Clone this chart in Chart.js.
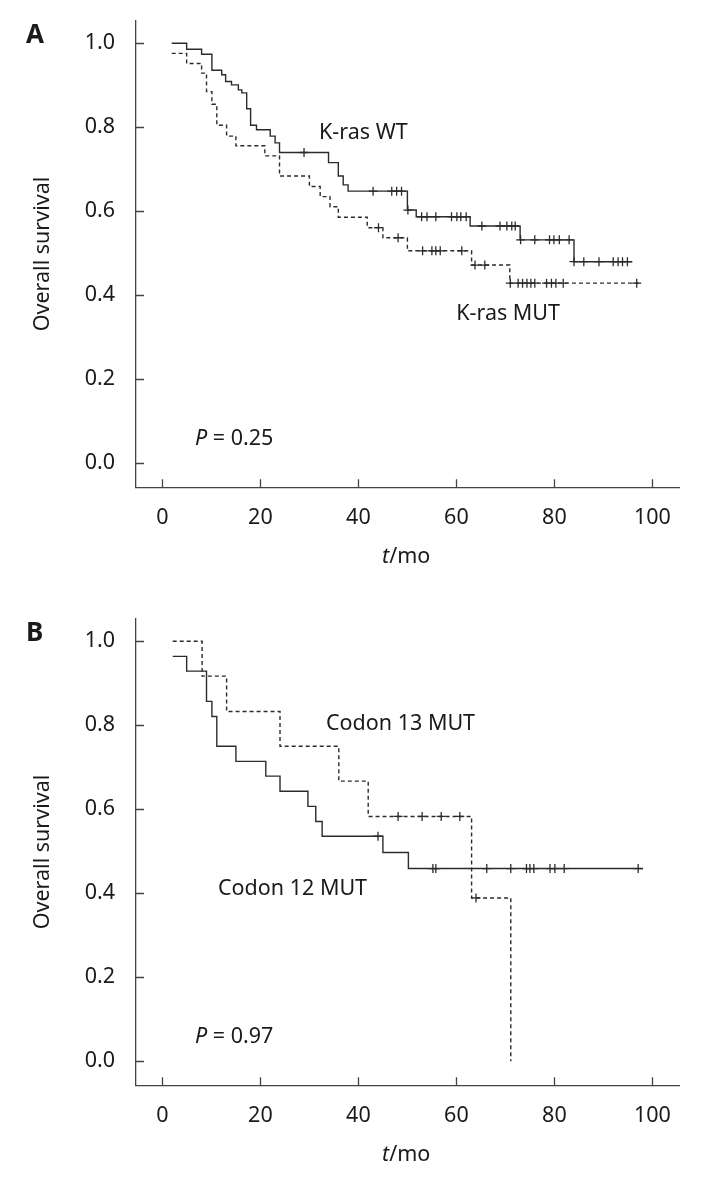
<!DOCTYPE html>
<html>
<head>
<meta charset="utf-8">
<script src="https://cdn.jsdelivr.net/npm/chart.js@4.4.1/dist/chart.umd.min.js"></script>
<style>
    body { margin: 0; background: #ffffff; }
    #wrap { position: relative; width: 705px; height: 1181px; }
    canvas { position: absolute; left: 0; }
    #chartA { top: 0; }
    #chartB { top: 598px; }
</style>
</head>
<body>
<div id="wrap">
    <canvas id="chartA" width="705" height="598"></canvas>
    <canvas id="chartB" width="705" height="583"></canvas>
</div>
<script>
// Panel A: K-ras wild type vs mutant
const wtTime = [1.9, 4.95, 8.0, 10.1, 12.1, 12.9, 14.1, 15.5, 16.2, 17.2, 18.0, 19.2, 22.0, 23.0, 23.9, 33.9, 35.9, 36.9, 37.9, 50.0, 51.8, 62.8, 73.0, 84.0, 95.9];
const wtSurv = [1.0, 0.986, 0.974, 0.936, 0.925, 0.909, 0.901, 0.889, 0.882, 0.844, 0.805, 0.794, 0.779, 0.763, 0.740, 0.716, 0.684, 0.663, 0.648, 0.603, 0.587, 0.565, 0.532, 0.480, 0.480];
const wtCensor = [28.9, 43.0, 46.8, 47.8, 48.8, 50.1, 52.9, 54.0, 55.8, 59.0, 60.1, 60.9, 62.0, 65.2, 68.9, 70.3, 71.3, 72.0, 73.1, 76.0, 79.0, 79.9, 81.0, 83.0, 84.0, 86.0, 89.1, 92.0, 93.0, 93.9, 94.9];

const mutTime = [1.9, 4.95, 8.0, 9.0, 10.1, 11.1, 13.1, 15.0, 20.9, 23.9, 30.0, 32.2, 34.2, 35.9, 41.8, 45.0, 50.0, 63.1, 70.9, 97.5];
const mutSurv = [0.976, 0.952, 0.929, 0.885, 0.855, 0.805, 0.779, 0.756, 0.732, 0.684, 0.659, 0.635, 0.611, 0.586, 0.561, 0.537, 0.506, 0.472, 0.429, 0.429];
const mutCensor = [44.1, 48.1, 53.1, 55.0, 55.8, 56.7, 61.1, 63.8, 65.8, 71.0, 72.6, 73.5, 74.4, 75.2, 76.0, 78.4, 79.4, 80.3, 81.8, 96.8];

// Panel B: codon 12 vs codon 13 mutations
const c12Time = [2.1, 4.95, 9.0, 10.1, 11.1, 15.0, 21.1, 24.0, 29.7, 31.3, 32.6, 45.0, 50.2, 98.1];
const c12Surv = [0.964, 0.929, 0.857, 0.821, 0.750, 0.714, 0.679, 0.643, 0.607, 0.571, 0.536, 0.497, 0.459, 0.459];
const c12Censor = [44.0, 55.2, 55.8, 66.2, 71.1, 74.3, 75.0, 75.8, 79.1, 80.1, 82.0, 97.1];

const c13Time = [2.1, 8.1, 13.1, 24.0, 36.0, 42.0, 63.1, 71.1];
const c13Surv = [1.0, 0.917, 0.833, 0.750, 0.667, 0.583, 0.389, 0.0];
const c13Censor = [48.1, 53.0, 56.9, 60.7, 64.0];

const xTicks = [0, 20, 40, 60, 80, 100];
const yTicks = [0, 0.2, 0.4, 0.6, 0.8, 1.0];

const FONT = "'Noto Sans', 'DejaVu Sans', sans-serif";
const INK = '#1a1a1a';
const LINE = '#2b2b2b';
const AXIS = '#444444';

function survAt(times, surv, t) {
    let s = surv[0];
    for (let i = 0; i < times.length; i++) {
        if (times[i] <= t) s = surv[i];
    }
    return s;
}

function curveSets(times, surv, censor, dashed) {
    return [{
        type: 'line',
        data: times.map((t, i) => ({ x: t, y: surv[i] })),
        stepped: 'before', // horizontal first, then the drop
        borderColor: LINE,
        borderWidth: 1.4,
        borderDash: dashed ? [4, 3] : [],
        pointRadius: 0,
        fill: false
    }, {
        type: 'scatter',
        data: censor.map(t => ({ x: t, y: survAt(times, surv, t) })),
        pointStyle: 'cross',
        pointRadius: 4.5,
        pointBorderWidth: 1.3,
        borderColor: LINE,
        backgroundColor: LINE
    }];
}

// inward tick marks, panel letter and the free text
function decorPlugin(panel) {
    return {
        id: 'decor' + panel.letter,
        afterDraw(chart) {
            const ctx = chart.ctx;
            const xs = chart.scales.x;
            const ys = chart.scales.y;
            const area = chart.chartArea;
            ctx.save();
            ctx.strokeStyle = AXIS;
            ctx.lineWidth = 1.3;
            ctx.beginPath();
            yTicks.forEach(v => {
                const y = Math.round(ys.getPixelForValue(v)) + 0.5;
                ctx.moveTo(area.left, y);
                ctx.lineTo(area.left + 8, y);
            });
            xTicks.forEach(v => {
                const x = Math.round(xs.getPixelForValue(v)) + 0.5;
                ctx.moveTo(x, area.bottom);
                ctx.lineTo(x, area.bottom - 8);
            });
            ctx.stroke();

            ctx.fillStyle = INK;
            ctx.textBaseline = 'alphabetic';
            ctx.font = 'bold 26px ' + FONT;
            ctx.textAlign = 'left';
            ctx.fillText(panel.letter, 26, 43);

            ctx.font = '21.5px ' + FONT;
            panel.labels.forEach(l => {
                ctx.textAlign = l.align || 'left';
                ctx.fillText(l.text, l.x, l.y);
            });

            // P value, P in italics
            ctx.textAlign = 'left';
            ctx.font = 'italic 21.5px ' + FONT;
            ctx.fillText('P', 195, 445);
            let w = ctx.measureText('P').width;
            ctx.font = '21.5px ' + FONT;
            ctx.fillText(' = ' + panel.p, 195 + w, 445);

            // x title t/mo
            ctx.font = 'italic 21.5px ' + FONT;
            ctx.fillText('t', 382, 563);
            w = ctx.measureText('t').width;
            ctx.font = '21.5px ' + FONT;
            ctx.fillText('/mo', 382 + w, 563);

            // y title
            ctx.translate(49, (area.top + area.bottom) / 2);
            ctx.rotate(-Math.PI / 2);
            ctx.textAlign = 'center';
            ctx.fillText('Overall survival', 0, 0);
            ctx.restore();
        }
    };
}

function makeChart(id, datasets, panel) {
    const ctx = document.getElementById(id).getContext('2d');
    const canvasH = document.getElementById(id).height;
    return new Chart(ctx, {
        data: { datasets: datasets },
        options: {
            responsive: false,
            animation: false,
            devicePixelRatio: 1,
            layout: { padding: { left: 0, top: 20.7, right: 25.7, bottom: 0 } },
            plugins: {
                legend: { display: false },
                tooltip: { enabled: false }
            },
            scales: {
                x: {
                    type: 'linear',
                    min: -5.39,
                    max: 105.49,
                    afterBuildTicks: scale => { scale.ticks = xTicks.map(v => ({ value: v })); },
                    afterFit: scale => {
                        scale.height = canvasH - 487.3;
                        scale.paddingLeft = 0;
                        scale.paddingRight = 0;
                    },
                    grid: { display: false, drawTicks: false },
                    border: { display: true, color: AXIS, width: 1.3 },
                    ticks: {
                        color: INK,
                        padding: 17.8,
                        maxRotation: 0,
                        autoSkip: false,
                        font: { family: FONT, size: 21.5 },
                        callback: v => String(v)
                    }
                },
                y: {
                    type: 'linear',
                    min: -0.0571,
                    max: 1.0538,
                    afterBuildTicks: scale => { scale.ticks = yTicks.map(v => ({ value: v })); },
                    afterFit: scale => {
                        scale.width = 136;
                        scale.paddingTop = 0;
                        scale.paddingBottom = 0;
                    },
                    grid: { display: false, drawTicks: false },
                    border: { display: true, color: AXIS, width: 1.3 },
                    ticks: {
                        color: INK,
                        padding: 21,
                        autoSkip: false,
                        font: { family: FONT, size: 21.5 },
                        callback: v => v.toFixed(1)
                    }
                }
            }
        },
        plugins: [decorPlugin(panel)]
    });
}

makeChart('chartA',
    curveSets(wtTime, wtSurv, wtCensor, false).concat(curveSets(mutTime, mutSurv, mutCensor, true)),
    {
        letter: 'A',
        p: '0.25',
        labels: [
            { text: 'K-ras WT', x: 319, y: 139 },
            { text: 'K-ras MUT', x: 560, y: 320, align: 'right' }
        ]
    });

makeChart('chartB',
    curveSets(c12Time, c12Surv, c12Censor, false).concat(curveSets(c13Time, c13Surv, c13Censor, true)),
    {
        letter: 'B',
        p: '0.97',
        labels: [
            { text: 'Codon 13 MUT', x: 326, y: 132 },
            { text: 'Codon 12 MUT', x: 218, y: 297 }
        ]
    });
</script>
</body>
</html>
